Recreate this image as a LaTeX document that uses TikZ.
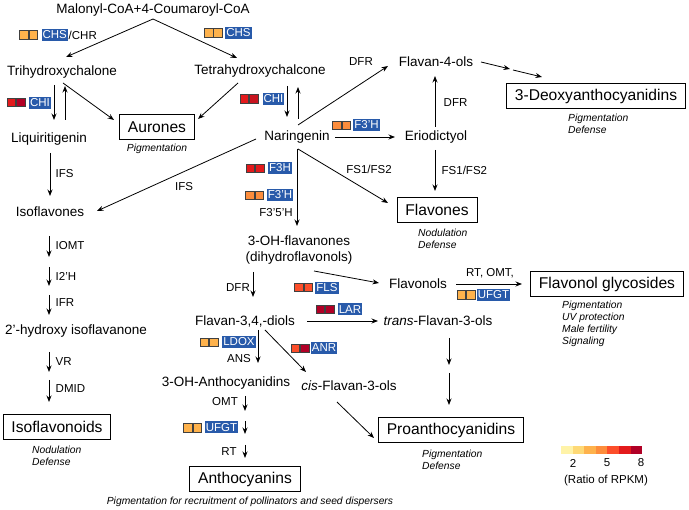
\documentclass[tikz,border=0pt]{standalone}
\usepackage{fontspec}
\setmainfont{Liberation Sans}
\usetikzlibrary{arrows.meta}
\definecolor{enzblue}{RGB}{40,90,170}
\definecolor{cA}{HTML}{FFF3A8}
\definecolor{cB}{HTML}{FED976}
\definecolor{cC}{HTML}{FEB24C}
\definecolor{cD}{HTML}{FD8D3C}
\definecolor{cE}{HTML}{FC4E2A}
\definecolor{cF}{HTML}{E31A1C}
\definecolor{cG}{HTML}{B10026}
\definecolor{cFG}{HTML}{C8141F}
\newcommand\cpair[5]{%
  \node[sq,fill=#4] (#1a) at (#2-4.65,#3) {};
  \node[sq,fill=#5] (#1b) at (#2+4.65,#3) {};}
\begin{document}
\begin{tikzpicture}[x=1pt,y=-1pt,
  lbl/.style={font=\fontsize{13.5}{16}\selectfont, inner sep=1pt, align=center},
  box/.style={draw, line width=0.8pt, font=\fontsize{15.6}{18}\selectfont, inner xsep=8.3pt, minimum height=25pt},
  sml/.style={font=\fontsize{11.5}{13}\selectfont, inner sep=0.5pt},
  note/.style={font=\itshape\fontsize{10.3}{12.2}\selectfont, inner sep=0pt, align=left},
  enz/.style={fill=enzblue, text=white, font=\fontsize{11.5}{13}\selectfont, inner xsep=1pt, inner ysep=0pt, minimum height=12pt},
  sq/.style={draw=black!75, line width=0.6pt, minimum size=8.6pt, inner sep=0pt},
  arr/.style={line width=0.8pt, -{Stealth[length=6.5pt,width=5pt]}},
]
\useasboundingbox (0,0) rectangle (689,510);

% compounds
\node[lbl] (malonyl) at (153,10) {Malonyl-CoA+4-Coumaroyl-CoA};
\node[lbl] (trihyd) at (62,72) {Trihydroxychalone};
\node[lbl] (tetra) at (260,71) {Tetrahydroxychalcone};
\node[lbl] (liq) at (49,139) {Liquiritigenin};
\node[lbl] (naring) at (297,137) {Naringenin};
\node[lbl] (erio) at (436,137) {Eriodictyol};
\node[lbl] (flav4) at (436,62) {Flavan-4-ols};
\node[lbl] (isofl) at (50,212) {Isoflavones};
\node[lbl] (hydroxy) at (76,331) {2’-hydroxy isoflavanone};
\node[lbl] (ohflav) at (299,250) {3-OH-flavanones\\(dihydroflavonols)};
\node[lbl] (flavonols) at (418,284) {Flavonols};
\node[lbl] (diols) at (245,321) {Flavan-3,4,-diols};
\node[lbl] (trans) at (438,321) {\textit{trans}-Flavan-3-ols};
\node[lbl] (cis) at (349,386) {\textit{cis}-Flavan-3-ols};
\node[lbl] (antho3) at (226,383) {3-OH-Anthocyanidins};

% end products
\node[box] (aurones) at (157,127) {Aurones};
\node[box] (deoxy) at (596,96) {3-Deoxyanthocyanidins};
\node[box] (flavones) at (437,210) {Flavones};
\node[box] (flglyc) at (607,284) {Flavonol glycosides};
\node[box] (proanth) at (451,430) {Proanthocyanidins};
\node[box] (anthocy) at (245,479) {Anthocyanins};
\node[box] (isofld) at (57,427) {Isoflavonoids};

% notes
\node[note] (nAur) at (157,149) {Pigmentation};
\node[note,anchor=west] (nDeo) at (568,124) {Pigmentation\\Defense};
\node[note,anchor=west] (nFla) at (418,239) {Nodulation\\Defense};
\node[note,anchor=west] (nGly) at (562,324) {Pigmentation\\UV protection\\Male fertility\\Signaling};
\node[note,anchor=west] (nPro) at (422,459.5) {Pigmentation\\Defense};
\node[note,anchor=west] (nIso) at (32,456) {Nodulation\\Defense};
\node[note] (nAnt) at (250,502) {Pigmentation for recruitment of pollinators and seed dispersers};

% enzyme labels (plain)
\node[sml,anchor=west] (ifs1) at (55,174) {IFS};
\node[sml] (ifs2) at (184,187) {IFS};
\node[sml] (dfr1) at (361,62) {DFR};
\node[sml,anchor=west] (dfr2) at (443,103) {DFR};
\node[sml,anchor=west] (fs1) at (441,170) {FS1/FS2};
\node[sml] (fs2) at (369,169) {FS1/FS2};
\node[sml] (f35h) at (276,213) {F3'5'H};
\node[sml] (rtomt) at (490,273) {RT, OMT,};
\node[sml] (dfr3) at (238,288) {DFR};
\node[sml] (ans) at (239,359) {ANS};
\node[sml] (omt) at (225,402) {OMT};
\node[sml] (rt) at (229,452) {RT};
\node[sml,anchor=west] (iomt) at (55,246) {IOMT};
\node[sml,anchor=west] (i2h) at (55,276) {I2'H};
\node[sml,anchor=west] (ifr) at (55,303) {IFR};
\node[sml,anchor=west] (vr) at (55,362) {VR};
\node[sml,anchor=west] (dmid) at (55,389) {DMID};

% highlighted enzymes
\node[enz] (chsL) at (54.7,35) {CHS};
\node[sml,anchor=west] (chr) at (chsL.east) {/CHR};
\node[enz] (chsR) at (238.5,33) {CHS};
\node[enz] (chiL) at (40,103) {CHI};
\node[enz] (chiR) at (273.5,99) {CHI};
\node[enz] (f3hH) at (366.5,125) {F3'H};
\node[enz] (f3h) at (280,168) {F3H};
\node[enz] (f3hV) at (280,195) {F3'H};
\node[enz] (fls) at (327,288) {FLS};
\node[enz] (lar) at (350,309.5) {LAR};
\node[enz] (anr) at (324,348) {ANR};
\node[enz] (ldox) at (239,342) {LDOX};
\node[enz] (ufgtF) at (493.5,295) {UFGT};
\node[enz] (ufgtA) at (221.5,427.5) {UFGT};

% expression squares
\cpair{pChsL}{28.5}{35}{cC}{cC}
\cpair{pChsR}{213.3}{33}{cC}{cC}
\cpair{pChiL}{16}{102.5}{cF}{cG}
\cpair{pChiR}{249}{99}{cF}{cFG}
\cpair{pF3hH}{341.5}{125.5}{cD}{cD}
\cpair{pF3h}{255}{168.5}{cF}{cF}
\cpair{pF3hV}{254.5}{195.5}{cD}{cD}
\cpair{pFls}{303.5}{287.5}{cE}{cE}
\cpair{pLar}{325}{309.5}{cG}{cG}
\cpair{pAnr}{300}{348.5}{cE}{cG}
\cpair{pLdox}{209}{342.5}{cC}{cC}
\cpair{pUfgtF}{466}{295}{cC}{cC}
\cpair{pUfgtA}{192.5}{428}{cC}{cC}

% intermediate coordinates
\coordinate (d1) at (510,69);
\coordinate (d2) at (513,70);
\coordinate (p1) at (449,365);
\coordinate (p2) at (449,373);
\coordinate (a1) at (245,411);
\coordinate (a2) at (245,421);
\coordinate (a3) at (245,434);
\coordinate (a4) at (245,445);
\coordinate (i1) at (49,257);
\coordinate (i2) at (49,267);
\coordinate (i3) at (49,286);
\coordinate (i4) at (49,295);
\coordinate (i5) at (49,372);
\coordinate (i6) at (49,380);

% connectors
\draw[arr] ([shift={(0,9)}]malonyl.center) -- ([shift={(4,-15)}]trihyd.center);
\draw[arr] ([shift={(0,9)}]malonyl.center) -- ([shift={(-23,-13)}]tetra.center);
\draw[arr] ([shift={(1,11)}]trihyd.center) -- ([shift={(-43,-7)}]aurones.center);
\draw[arr] ([shift={(-22,12)}]tetra.center) -- ([shift={(41,-8)}]aurones.center);
\draw[arr] ([shift={(-8,13)}]trihyd.center) -- ([shift={(5,-19)}]liq.center);
\draw[arr] ([shift={(16,-19)}]liq.center) -- ([shift={(3,14)}]trihyd.center);
\draw[arr] ([shift={(27,15)}]tetra.center) -- ([shift={(-10,-20)}]naring.center);
\draw[arr] ([shift={(1,-18)}]naring.center) -- ([shift={(38,16)}]tetra.center);
\draw[arr] ([shift={(1,14)}]liq.center) -- ([shift={(0,-16)}]isofl.center);
\draw[arr] ([shift={(-41,2)}]naring.center) -- ([shift={(47,-1)}]isofl.center);
\draw[arr] ([shift={(1,-12)}]naring.center) -- ([shift={(-48,4)}]flav4.center);
\draw[arr] ([shift={(45,0)}]flav4.center) -- (d1);
\draw[arr] (d2) -- ([shift={(-54,-19)}]deoxy.center);
\draw[arr] ([shift={(-1,-10)}]erio.center) -- ([shift={(-1,14)}]flav4.center);
\draw[arr] ([shift={(38,0)}]naring.center) -- ([shift={(-41,0)}]erio.center);
\draw[arr] ([shift={(-1,13)}]erio.center) -- ([shift={(-2,-19)}]flavones.center);
\draw[arr] ([shift={(1,12)}]naring.center) -- ([shift={(-49,-7)}]flavones.center);
\draw[arr] ([shift={(0,12)}]naring.center) -- ([shift={(-2,-24)}]ohflav.center);
\draw[arr] ([shift={(15,21)}]ohflav.center) -- ([shift={(-39,-1)}]flavonols.center);
\draw[arr] ([shift={(38,0)}]flavonols.center) -- ([shift={(-85,0)}]flglyc.center);
\draw[arr] ([shift={(-46,22)}]ohflav.center) -- ([shift={(8,-24)}]diols.center);
\draw[arr] ([shift={(62,0)}]diols.center) -- ([shift={(-60,0)}]trans.center);
\draw[arr] ([shift={(11,17)}]trans.center) -- (p1);
\draw[arr] (p2) -- ([shift={(-2,-25)}]proanth.center);
\draw[arr] ([shift={(20,9)}]diols.center) -- ([shift={(-43,-14)}]cis.center);
\draw[arr] ([shift={(-12,16)}]cis.center) -- ([shift={(-77,8)}]proanth.center);
\draw[arr] ([shift={(13,9)}]diols.center) -- ([shift={(32,-20)}]antho3.center);
\draw[arr] ([shift={(19,13)}]antho3.center) -- (a1);
\draw[arr] (a2) -- (a3);
\draw[arr] (a4) -- ([shift={(0,-21)}]anthocy.center);
\draw[arr] ([shift={(-1,24)}]isofl.center) -- (i1);
\draw[arr] (i2) -- (i3);
\draw[arr] (i4) -- ([shift={(-27,-16)}]hydroxy.center);
\draw[arr] ([shift={(-27,21)}]hydroxy.center) -- (i5);
\draw[arr] (i6) -- ([shift={(-8,-25)}]isofld.center);

% legend
\foreach \c [count=\i from 0] in {cA,cB,cC,cD,cE,cF,cG}
  \fill[\c] (561+\i*11.6,446) rectangle ++(11.6,8);
\node[sml] (lg2) at (573,463) {2};
\node[sml] (lg5) at (607,463) {5};
\node[sml] (lg8) at (641,463) {8};
\node[sml] (lgt) at (606,481) {(Ratio of RPKM)};
\end{tikzpicture}
\end{document}
